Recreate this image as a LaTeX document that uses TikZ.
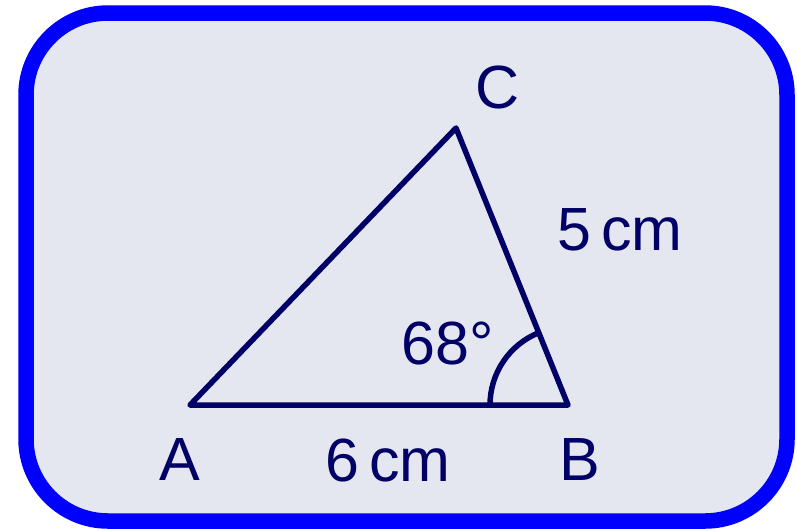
\documentclass[tikz,border=0pt]{standalone}
\usepackage{fontspec}
\setmainfont{Liberation Sans}
\definecolor{frameblue}{HTML}{0000FF}
\definecolor{panel}{HTML}{E4E7F0}
\definecolor{navy}{HTML}{000066}
\begin{document}
\begin{tikzpicture}[x=1pt,y=-1pt,
  lbl/.style={text=navy,font=\fontsize{61}{63}\selectfont,inner sep=0pt},
  side/.style={draw=navy,line width=5.5pt,line join=round}]
\useasboundingbox (0,0) rectangle (797,528);
\draw[frameblue,fill=panel,line width=15.5pt,rounded corners=82pt] (26,13) rectangle (787,521);
\coordinate (A) at (190,405);
\coordinate (B) at (568,405);
\coordinate (C) at (456,128);
\draw[side] (A) -- (B) -- (C) -- cycle;
\draw[draw=navy,line width=5.5pt] ([xshift=-78pt]B) arc[start angle=180,end angle=112,radius=78pt];
\node[lbl] (la) at (180,460) {A};
\node[lbl] (lb) at (580,460) {B};
\node[lbl] (lc) at (498,87) {C};
\node[lbl] (l6) at (388,460) {6\,cm};
\node[lbl] (l5) at (620,230) {5\,cm};
\node[lbl] (lang) at (448,343) {68°};
\end{tikzpicture}
\end{document}
